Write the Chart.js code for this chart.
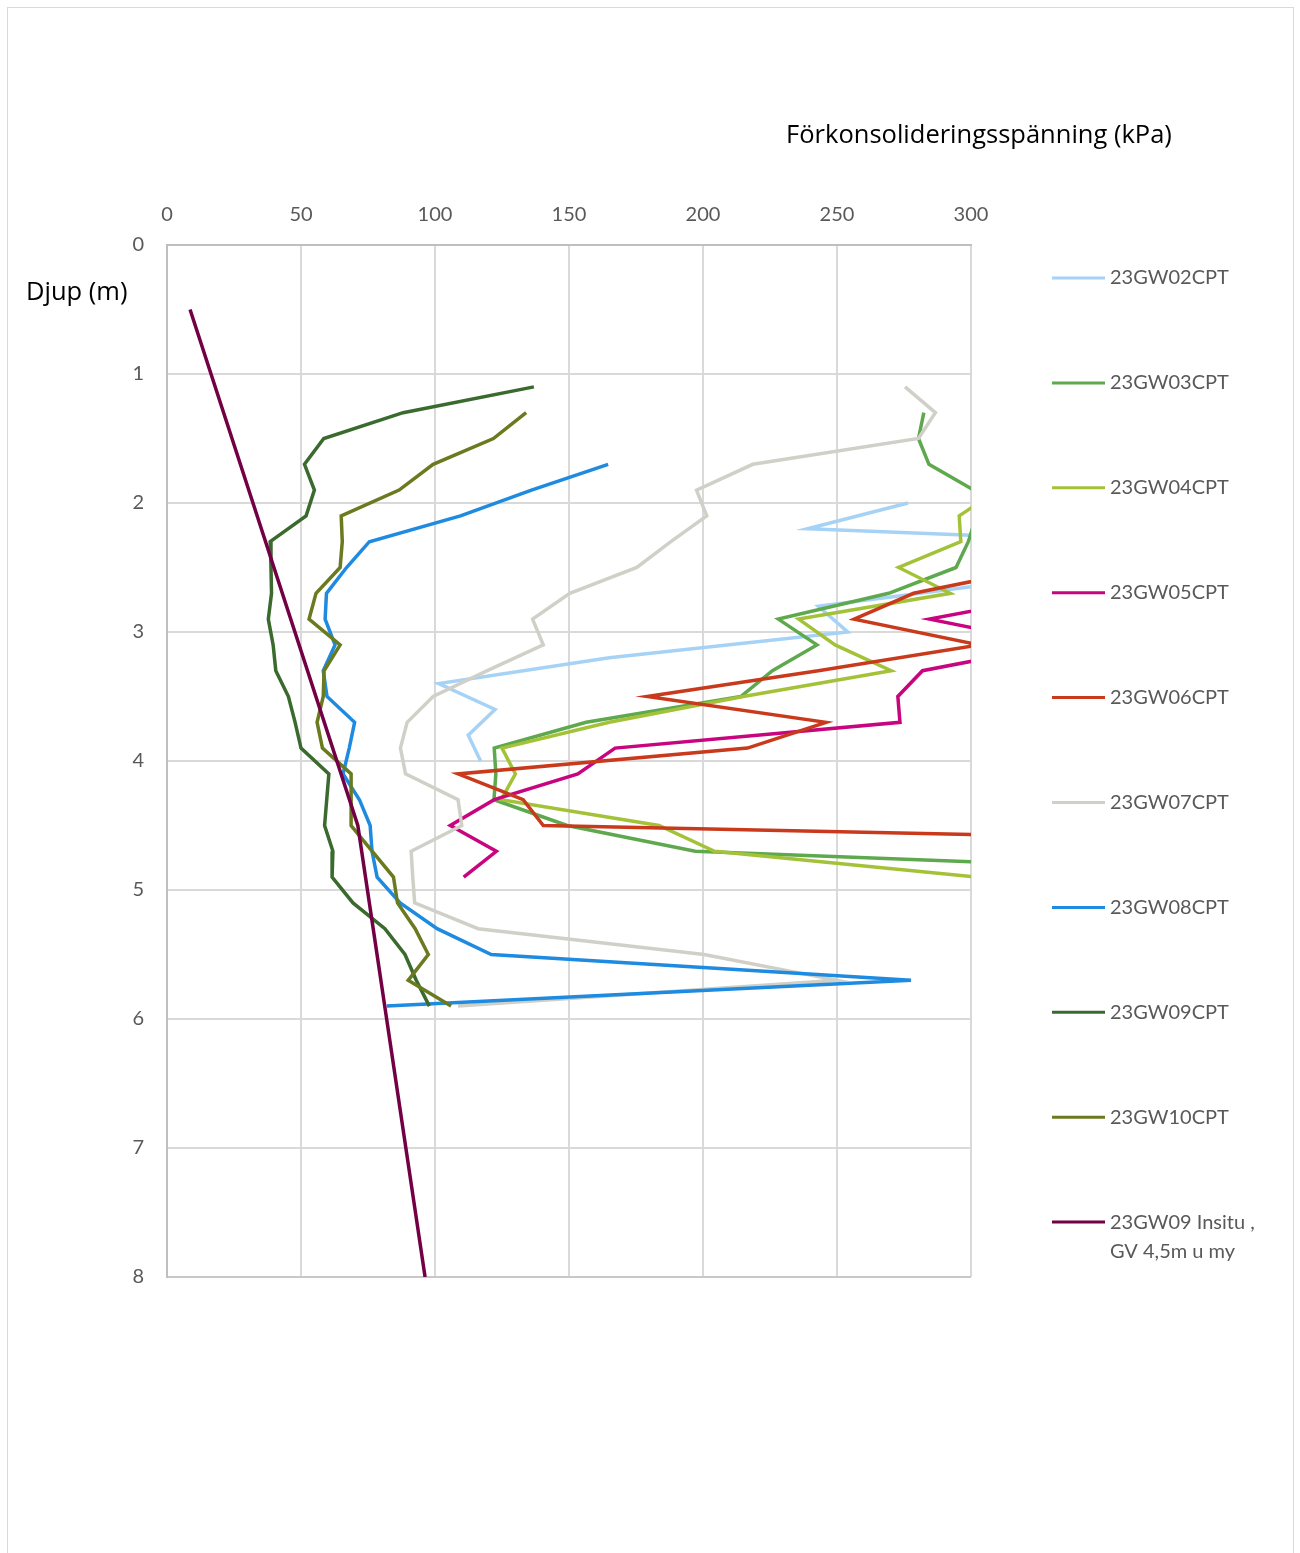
<!DOCTYPE html>
<html>
<head>
<meta charset="utf-8">
<title>Förkonsolideringsspänning</title>
<script src="https://cdn.jsdelivr.net/npm/chart.js@4.4.1/dist/chart.umd.min.js"></script>
<style>
  html, body { margin: 0; padding: 0; background: #fff; }
  #frame { position: absolute; left: 7px; top: 7px; width: 1287px; height: 1600px; border: 1px solid #d9d9d9; box-sizing: border-box; }
  #wrap { position: absolute; left: 0; top: 0; width: 1300px; height: 1553px; }
</style>
</head>
<body>
<div id="frame"></div>
<div id="wrap"><canvas id="chart"></canvas></div>
<script>
// depth (m) and preconsolidation pressure (kPa) per sounding
const gw02Depth = [2.0, 2.2, 2.4, 2.6, 2.8, 3.0, 3.2, 3.4, 3.6, 3.8, 4.0];
const gw02Value = [276.5, 239, 480, 319, 243, 254, 165, 101.4, 122.4, 112.4, 117];

const gw03Depth = [1.3, 1.5, 1.7, 1.9, 2.1, 2.3, 2.5, 2.7, 2.9, 3.1, 3.3, 3.5, 3.7, 3.9, 4.1, 4.3, 4.5, 4.7, 4.9];
const gw03Value = [282.4, 280.4, 284.3, 301, 302, 299, 294.4, 269.3, 228.1, 242.5, 225.9, 214.1, 156.4, 122.1, 122.7, 122, 149.3, 197.1, 454];

const gw04Depth = [1.9, 2.1, 2.3, 2.5, 2.7, 2.9, 3.1, 3.3, 3.5, 3.7, 3.9, 4.1, 4.3, 4.5, 4.7, 4.9];
const gw04Value = [310, 295.6, 296.2, 273, 292.3, 235.7, 249.3, 270.2, 215, 165, 125, 130, 124.7, 183.6, 204.3, 302];

const gw05Depth = [2.7, 2.9, 3.1, 3.3, 3.5, 3.7, 3.9, 4.1, 4.3, 4.5, 4.7, 4.9];
const gw05Value = [336, 284.5, 332, 281.9, 272.7, 273.5, 167.2, 153.3, 122.1, 105.7, 122.9, 110.7];

const gw06Depth = [2.5, 2.7, 2.9, 3.1, 3.3, 3.5, 3.7, 3.9, 4.1, 4.3, 4.5, 4.7];
const gw06Value = [326, 278.6, 256.4, 303, 243, 179.2, 245.9, 216.6, 108.6, 132.9, 140.4, 596];

const gw07Depth = [1.1, 1.3, 1.5, 1.7, 1.9, 2.1, 2.3, 2.5, 2.7, 2.9, 3.1, 3.3, 3.5, 3.7, 3.9, 4.1, 4.3, 4.5, 4.7, 4.9, 5.1, 5.3, 5.5, 5.7, 5.9];
const gw07Value = [275.4, 286.7, 280.4, 218.6, 197.6, 201.4, 188, 175.3, 150.3, 136.4, 140.4, 119.5, 99.3, 89.6, 87.1, 89, 108.6, 110, 91.1, 91.7, 92.4, 116.1, 200.4, 250, 108.6];

const gw08Depth = [1.7, 1.9, 2.1, 2.3, 2.5, 2.7, 2.9, 3.1, 3.3, 3.5, 3.7, 3.9, 4.1, 4.3, 4.5, 4.7, 4.9, 5.1, 5.3, 5.5, 5.7, 5.9];
const gw08Value = [164.6, 136, 109.5, 75.5, 67, 59.5, 59, 62.7, 58.3, 59.7, 70, 68, 65.7, 71.8, 75.8, 76.5, 78.4, 87, 100.8, 121, 277.6, 82];

const gw09Depth = [1.1, 1.3, 1.5, 1.7, 1.9, 2.1, 2.3, 2.5, 2.7, 2.9, 3.1, 3.3, 3.5, 3.7, 3.9, 4.1, 4.3, 4.5, 4.7, 4.9, 5.1, 5.3, 5.5, 5.7, 5.9];
const gw09Value = [136.9, 88.1, 58.5, 51.3, 55, 51.9, 38.5, 38.8, 39, 37.8, 39.6, 40.6, 45.3, 47.8, 50, 60.4, 59.6, 58.8, 61.9, 61.6, 69.4, 81.3, 88.8, 93, 97.9];

const gw10Depth = [1.3, 1.5, 1.7, 1.9, 2.1, 2.3, 2.5, 2.7, 2.9, 3.1, 3.3, 3.5, 3.7, 3.9, 4.1, 4.3, 4.5, 4.7, 4.9, 5.1, 5.3, 5.5, 5.7, 5.9];
const gw10Value = [134, 121.8, 99.3, 86.6, 65, 65.4, 64.6, 55.6, 53, 64.6, 58.6, 58.3, 56, 58, 68.7, 68.7, 68.7, 76.6, 84.5, 86, 92.6, 97.5, 90, 106];

const insituDepth = [0.5, 4.5, 8.0];
const insituValue = [8.6, 71.2, 96.3];

const seriesNames = ['23GW02CPT', '23GW03CPT', '23GW04CPT', '23GW05CPT', '23GW06CPT',
  '23GW07CPT', '23GW08CPT', '23GW09CPT', '23GW10CPT', '23GW09 Insitu ,\nGV 4,5m u my'];
const seriesColors = ['#a6d2f5', '#5ea84e', '#a3c238', '#c8047f', '#c9391b',
  '#d0d0c8', '#1e8be0', '#3a6a2d', '#6a7a1f', '#730045'];

const xTicks = [0, 50, 100, 150, 200, 250, 300];
const yTicks = [0, 1, 2, 3, 4, 5, 6, 7, 8];

const depthLists = [gw02Depth, gw03Depth, gw04Depth, gw05Depth, gw06Depth, gw07Depth, gw08Depth, gw09Depth, gw10Depth, insituDepth];
const valueLists = [gw02Value, gw03Value, gw04Value, gw05Value, gw06Value, gw07Value, gw08Value, gw09Value, gw10Value, insituValue];

const FONT = 'Lato, "Open Sans", sans-serif';
const CAPTION_FONT = '"Open Sans", Lato, sans-serif';

function toPoints(depths, values) {
  return depths.map((d, i) => ({ x: values[i], y: d }));
}

const datasets = seriesNames.map((name, i) => ({
  label: name,
  data: toPoints(depthLists[i], valueLists[i]),
  borderColor: seriesColors[i],
  backgroundColor: seriesColors[i],
  borderWidth: 3.5,
  pointRadius: 0,
  showLine: true,
  tension: 0,
  order: seriesNames.length - i // later series drawn on top, like the original
}));

// legend on the right + the two free-standing axis captions
const sidePlugin = {
  id: 'side',
  afterDraw(chart) {
    const ctx = chart.ctx;
    ctx.save();
    chart.data.datasets.forEach((ds, i) => {
      const y = 278 + i * 104.9;
      ctx.strokeStyle = ds.borderColor;
      ctx.lineWidth = 3;
      ctx.beginPath();
      ctx.moveTo(1052, y);
      ctx.lineTo(1105, y);
      ctx.stroke();
      ctx.fillStyle = '#595959';
      ctx.font = '20px ' + FONT;
      ctx.textBaseline = 'middle';
      ctx.textAlign = 'left';
      ds.label.split('\n').forEach((line, k) => {
        ctx.fillText(line, 1110, y + k * 29);
      });
    });
    ctx.fillStyle = '#000';
    ctx.font = '25.5px ' + CAPTION_FONT;
    ctx.textBaseline = 'middle';
    ctx.textAlign = 'center';
    ctx.fillText('Förkonsolideringsspänning (kPa)', 979, 136);
    ctx.textAlign = 'left';
    ctx.fillText('Djup (m)', 26, 293);
    ctx.restore();
  }
};

new Chart(document.getElementById('chart'), {
  type: 'scatter',
  data: { datasets: datasets },
  options: {
    responsive: true,
    maintainAspectRatio: false,
    animation: false,
    layout: { padding: { left: 0, top: 0, right: 329, bottom: 276 } },
    plugins: { legend: { display: false }, tooltip: { enabled: false } },
    scales: {
      x: {
        type: 'linear',
        position: 'top',
        min: 0,
        max: 300,
        afterBuildTicks: (s) => { s.ticks = xTicks.map(v => ({ value: v })); },
        afterFit: (s) => { s.height = 245; },
        ticks: { color: '#595959', font: { size: 20, family: FONT }, padding: 18 },
        grid: { color: '#d9d9d9', lineWidth: 2, drawTicks: false },
        border: { color: '#bfbfbf', width: 2 }
      },
      y: {
        type: 'linear',
        reverse: true,
        min: 0,
        max: 8,
        afterBuildTicks: (s) => { s.ticks = yTicks.map(v => ({ value: v })); },
        afterFit: (s) => { s.width = 167; },
        ticks: { color: '#595959', font: { size: 20, family: FONT }, padding: 23 },
        grid: {
          color: (c) => (c.tick && c.tick.value === 8 ? '#c8c8c8' : '#d9d9d9'),
          lineWidth: 2,
          drawTicks: false
        },
        border: { color: '#bfbfbf', width: 2 }
      }
    }
  },
  plugins: [sidePlugin]
});
</script>
</body>
</html>
